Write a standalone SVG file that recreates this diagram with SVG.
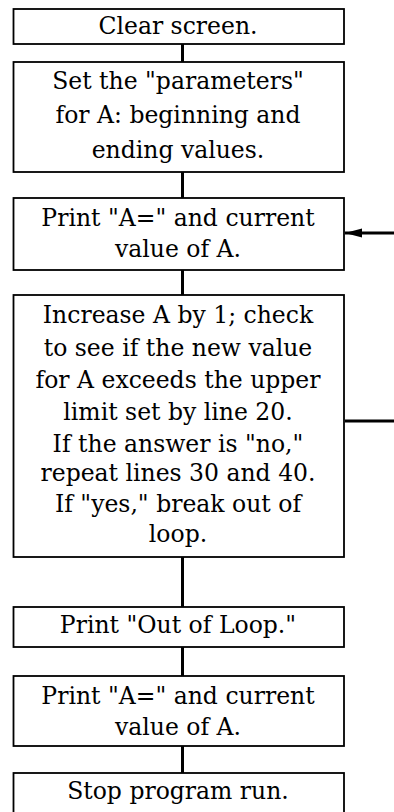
<svg xmlns="http://www.w3.org/2000/svg" width="394" height="812" viewBox="0 0 394 812">
<defs>
<style>
.box{fill:#fff;stroke:#000;stroke-width:1.8}
.t{font-family:"DejaVu Serif","Liberation Serif",serif;font-size:23.5px;fill:#000;text-anchor:middle}
.c{stroke:#000;stroke-width:3;fill:none}
</style>
<marker id="ah" markerUnits="userSpaceOnUse" markerWidth="18" markerHeight="10" refX="17" refY="5" orient="auto">
<path d="M0,0.5 L17,5 L0,9.5 Z" fill="#000"/>
</marker>
</defs>
<g id="connectors">
<line class="c" x1="182.5" y1="44" x2="182.5" y2="62"/>
<line class="c" x1="182.5" y1="172" x2="182.5" y2="198"/>
<line class="c" x1="182.5" y1="270" x2="182.5" y2="295"/>
<line class="c" x1="182.5" y1="557" x2="182.5" y2="607"/>
<line class="c" x1="182.5" y1="647" x2="182.5" y2="676"/>
<line class="c" x1="182.5" y1="746" x2="182.5" y2="773"/>
<line class="c" x1="394" y1="233" x2="345" y2="233" marker-end="url(#ah)"/>
<line class="c" x1="345" y1="421" x2="394" y2="421"/>
</g>
<g id="n1">
<rect class="box" x="13.5" y="9" width="330.5" height="35"/>
<text class="t" x="178" y="34">Clear screen.</text>
</g>
<g id="n2">
<rect class="box" x="13.5" y="62" width="330.5" height="110"/>
<text class="t" x="178" y="89">Set the "parameters"</text>
<text class="t" x="178" y="123">for A: beginning and</text>
<text class="t" x="178" y="158">ending values.</text>
</g>
<g id="n3">
<rect class="box" x="13.5" y="198" width="330.5" height="72"/>
<text class="t" x="178" y="226">Print "A=" and current</text>
<text class="t" x="178" y="257">value of A.</text>
</g>
<g id="n4">
<rect class="box" x="13.5" y="295" width="330.5" height="262"/>
<text class="t" x="178" y="323">Increase A by 1; check</text>
<text class="t" x="178" y="356">to see if the new value</text>
<text class="t" x="178" y="388">for A exceeds the upper</text>
<text class="t" x="178" y="420">limit set by line 20.</text>
<text class="t" x="178" y="452">If the answer is "no,"</text>
<text class="t" x="178" y="481">repeat lines 30 and 40.</text>
<text class="t" x="178" y="512">If "yes," break out of</text>
<text class="t" x="178" y="542">loop.</text>
</g>
<g id="n5">
<rect class="box" x="13.5" y="607" width="330.5" height="40"/>
<text class="t" x="178" y="633">Print "Out of Loop."</text>
</g>
<g id="n6">
<rect class="box" x="13.5" y="676" width="330.5" height="70"/>
<text class="t" x="178" y="704">Print "A=" and current</text>
<text class="t" x="178" y="735">value of A.</text>
</g>
<g id="n7">
<rect class="box" x="13.5" y="773" width="330.5" height="45"/>
<text class="t" x="178" y="799">Stop program run.</text>
</g>
</svg>
